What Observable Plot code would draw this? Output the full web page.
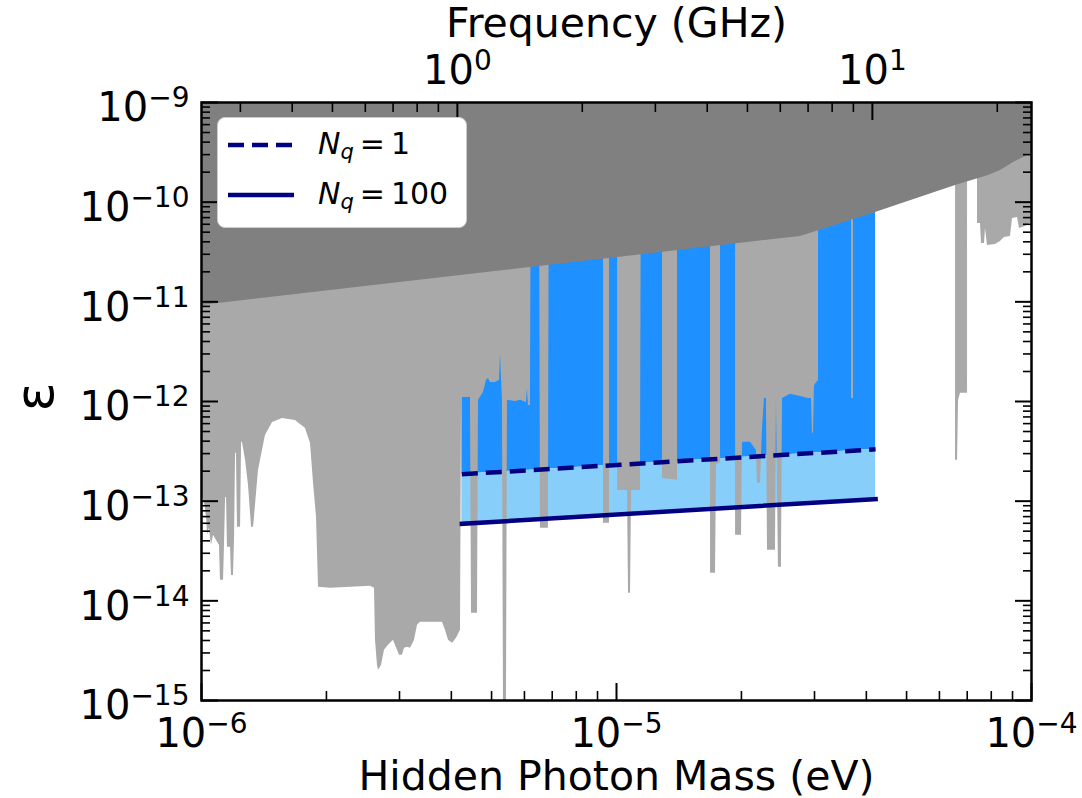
<!DOCTYPE html>
<html><head><meta charset="utf-8">
<script src="https://cdn.jsdelivr.net/npm/d3@7"></script>
<script src="https://cdn.jsdelivr.net/npm/@observablehq/plot@0.6"></script>
<style>
body{margin:0;background:#fff;}
#wrap{position:relative;width:1082px;height:798px;}
#legend{position:absolute;left:217px;top:117px;width:250px;height:111px;box-sizing:border-box;background:#fff;border:1.5px solid #cccccc;border-radius:8px;font-family:"DejaVu Sans";font-size:30px;color:#000;}
.row{position:absolute;left:0;height:40px;display:flex;align-items:center;}
.row svg{margin-left:10px;}
.row span{margin-left:24px;white-space:nowrap;}
.row sub{font-size:70%;vertical-align:-0.25em;font-style:italic;}
</style></head><body><div id="wrap"><div id="legend"></div></div>
<script>
// ---- constants / tick values ----
const GHZ_EV = 4.135667e-6;            // eV per GHz
const TOP = 1e-9;                      // top of the plotted range
const xMajor = [1e-6, 1e-5, 1e-4];
const xMinor = [2e-6,3e-6,4e-6,5e-6,6e-6,7e-6,8e-6,9e-6,2e-5,3e-5,4e-5,5e-5,6e-5,7e-5,8e-5,9e-5];
const yMajor = [1e-15,1e-14,1e-13,1e-12,1e-11,1e-10,1e-9];
const yMinor = [-15,-14,-13,-12,-11,-10].flatMap(e => [2,3,4,5,6,7,8,9].map(k => k * 10 ** e));
const fMajorGHz = [1, 10];
const fMinorGHz = [0.3,0.4,0.5,0.6,0.7,0.8,0.9,2,3,4,5,6,7,8,9,20];

// ---- projected sensitivity (N_q = 1 dashed, N_q = 100 solid) ----
const projMass = [4.24e-6, 4.21e-5];
const nq1Eps   = [1.86e-13, 3.31e-13];
const nq100Eps = [5.92e-14, 1.05e-13];

// ---- dark grey upper exclusion boundary ----
const darkMass = [1e-6, 2.776e-5, 4.208e-5, 6.561e-5, 7.88e-5, 8.418e-5, 9.05e-5, 1e-4];
const darkEps  = [9.20e-12, 4.53e-11, 7.88e-11, 1.47e-10, 1.85e-10, 2.08e-10, 2.50e-10, 3.08e-10];

// ---- light grey existing limits (lower boundary; TOP = no limit) ----
const greyMass = [
1.00e-6,1.02e-6,1.03e-6,1.034e-6,1.045e-6,1.057e-6,1.069e-6,1.087e-6,1.105e-6,1.111e-6,
1.130e-6,1.136e-6,1.143e-6,1.149e-6,1.155e-6,1.175e-6,1.181e-6,1.194e-6,1.201e-6,1.208e-6,
1.214e-6,1.221e-6,1.242e-6,1.249e-6,1.255e-6,1.277e-6,1.298e-6,1.320e-6,1.335e-6,1.372e-6,
1.426e-6,1.483e-6,1.567e-6,1.684e-6,1.781e-6,1.831e-6,1.862e-6,1.893e-6,1.914e-6,2.046e-6,
2.286e-6,2.554e-6,2.611e-6,2.626e-6,2.655e-6,2.670e-6,2.714e-6,2.760e-6,2.822e-6,2.901e-6,
2.966e-6,3.000e-6,3.050e-6,3.084e-6,3.136e-6,3.189e-6,3.260e-6,3.315e-6,3.370e-6,3.563e-6,
3.808e-6,3.872e-6,3.937e-6,4.026e-6,4.116e-6,4.208e-6,4.232e-6,4.255e-6,4.448e-6,4.473e-6,
4.624e-6,4.650e-6,4.780e-6,4.861e-6,4.915e-6,4.970e-6,5.109e-6,5.224e-6,5.253e-6,5.282e-6,
5.311e-6,5.341e-6,5.431e-6,5.461e-6,5.708e-6,5.868e-6,6.067e-6,6.101e-6,6.135e-6,6.203e-6,
6.238e-6,6.521e-6,6.557e-6,6.854e-6,6.892e-6,9.304e-6,9.304e-6,9.619e-6,9.619e-6,1.006e-5,
1.006e-5,1.063e-5,1.069e-5,1.081e-5,1.087e-5,1.142e-5,1.149e-5,1.291e-5,1.291e-5,1.403e-5,
1.403e-5,1.685e-5,1.685e-5,1.732e-5,1.742e-5,1.781e-5,1.781e-5,1.936e-5,1.936e-5,2.001e-5,
2.012e-5,2.103e-5,2.174e-5,2.186e-5,2.223e-5,2.247e-5,2.273e-5,2.298e-5,2.311e-5,2.416e-5,
2.429e-5,2.456e-5,2.497e-5,2.512e-5,2.626e-5,2.776e-5,2.901e-5,2.950e-5,2.966e-5,2.983e-5,
3.000e-5,3.067e-5,3.067e-5,3.684e-5,3.684e-5,3.725e-5,3.725e-5,6.561e-5,6.561e-5,6.634e-5,
6.671e-5,6.745e-5,7.012e-5,7.012e-5,7.411e-5,7.411e-5,7.535e-5,7.577e-5,7.704e-5,7.747e-5,
7.833e-5,8.188e-5,8.418e-5,8.607e-5,8.899e-5,8.999e-5,9.253e-5,9.356e-5,9.673e-5,1.0e-4];
const greyEps = [
1.20e-13,9.08e-14,6.42e-14,4.54e-14,5.34e-14,3.60e-14,4.54e-14,4.04e-14,3.60e-14,1.61e-14,
1.61e-14,3.60e-14,1.09e-13,1.09e-13,3.44e-14,3.44e-14,1.80e-14,1.80e-14,4.04e-14,3.02e-13,
3.02e-13,5.46e-14,5.46e-14,3.89e-13,3.89e-13,2.57e-13,1.44e-13,5.46e-14,5.46e-14,2.04e-13,
4.57e-13,6.17e-13,6.77e-13,6.46e-13,5.37e-13,3.80e-13,1.51e-13,6.88e-14,1.37e-14,1.34e-14,
1.37e-14,1.40e-14,1.34e-14,4.02e-15,2.25e-15,2.01e-15,2.25e-15,3.19e-15,3.58e-15,4.02e-15,
3.19e-15,2.84e-15,2.84e-15,3.34e-15,3.42e-15,3.34e-15,4.02e-15,5.68e-15,6.09e-15,6.09e-15,
6.09e-15,5.06e-15,4.02e-15,3.75e-15,4.21e-15,5.06e-15,1.03e-12,1.10e-12,1.10e-12,7.49e-15,
7.49e-15,1.03e-12,1.23e-12,1.63e-12,1.70e-12,1.55e-12,1.55e-12,1.63e-12,3.04e-12,1.70e-12,
1.07e-12,1e-15,1e-15,1.03e-12,1.00e-12,1.03e-12,9.79e-13,1.35e-12,9.14e-13,9.14e-13,
TOP,TOP,5.34e-14,5.34e-14,TOP,TOP,5.99e-14,5.99e-14,TOP,TOP,
1.28e-13,1.28e-13,1.19e-14,1.19e-14,1.28e-13,1.28e-13,TOP,TOP,1.69e-13,1.62e-13,
TOP,TOP,1.89e-14,1.89e-14,2.29e-13,2.45e-13,TOP,TOP,4.54e-14,4.54e-14,
3.89e-13,3.89e-13,3.23e-13,1.51e-13,1.51e-13,5.13e-13,1.07e-12,1.07e-12,3.21e-14,3.21e-14,
1.03e-12,2.17e-14,2.17e-14,1.07e-12,1.18e-12,1.12e-12,1.07e-12,1.07e-12,4.79e-13,4.79e-13,
1.45e-12,1.63e-12,TOP,TOP,1.07e-12,1.07e-12,TOP,TOP,2.57e-13,2.57e-13,
1.03e-12,1.21e-12,1.21e-12,TOP,TOP,6.11e-11,6.11e-11,3.85e-11,3.85e-11,5.45e-11,
3.68e-11,3.76e-11,4.03e-11,4.42e-11,4.53e-11,6.86e-11,7.02e-11,5.45e-11,5.71e-11,6.26e-11];

// ---- tables for the library ----
const proj = projMass.map((m, i) => ({m, lo: nq100Eps[i], hi: nq1Eps[i]}));
const dark = darkMass.map((m, i) => ({m, e: darkEps[i]}));
const grey = greyMass.map((m, i) => ({m, e: greyEps[i]}));

const pow10 = v => { const e = Math.round(Math.log10(v)); return "10^" + (e < 0 ? "\u2212" + (-e) : String(e)); };
const blank = () => "";
const FS = 40;

const chart = Plot.plot({
  width: 1082, height: 798,
  marginLeft: 201, marginRight: 51, marginTop: 102, marginBottom: 98,
  x: {type: "log", domain: [1e-6, 1e-4], label: null},
  y: {type: "log", domain: [1e-15, 1e-9], label: null},
  style: {fontFamily: "'DejaVu Sans', sans-serif", fontSize: FS + "px", color: "#000", background: "#fff"},
  marks: [
    Plot.areaY(proj, {x: "m", y1: "hi", y2: () => TOP, fill: "#1e90ff"}),
    Plot.areaY(proj, {x: "m", y1: "lo", y2: "hi", fill: "#87cefa"}),
    Plot.areaY(grey, {x: "m", y1: "e", y2: () => TOP, fill: "#a9a9a9"}),
    Plot.areaY(dark, {x: "m", y1: "e", y2: () => TOP, fill: "#808080"}),
    Plot.line(proj, {x: "m", y: "hi", stroke: "#000080", strokeWidth: 4.5, strokeDasharray: "16,8", strokeLinecap: "butt"}),
    Plot.line(proj, {x: "m", y: "lo", stroke: "#000080", strokeWidth: 4.5, strokeLinecap: "square"}),
    Plot.frame({stroke: "#000", strokeWidth: 2.5}),
    // inward ticks
    Plot.axisX(xMajor, {anchor: "bottom", tickSize: -17, strokeWidth: 2, tickFormat: blank, label: null}),
    Plot.axisX(xMinor, {anchor: "bottom", tickSize: -9, strokeWidth: 1.6, tickFormat: blank, label: null}),
    Plot.axisX(fMajorGHz.map(f => f * GHZ_EV), {anchor: "top", tickSize: -17, strokeWidth: 2, tickFormat: blank, label: null}),
    Plot.axisX(fMinorGHz.map(f => f * GHZ_EV), {anchor: "top", tickSize: -9, strokeWidth: 1.6, tickFormat: blank, label: null}),
    Plot.axisY(yMajor, {anchor: "left", tickSize: -17, strokeWidth: 2, tickFormat: blank, label: null}),
    Plot.axisY(yMinor, {anchor: "left", tickSize: -9, strokeWidth: 1.6, tickFormat: blank, label: null}),
    Plot.axisY(yMajor, {anchor: "right", tickSize: -17, strokeWidth: 2, tickFormat: blank, label: null}),
    Plot.axisY(yMinor, {anchor: "right", tickSize: -9, strokeWidth: 1.6, tickFormat: blank, label: null}),
    // tick labels
    Plot.axisX(xMajor, {anchor: "bottom", tickSize: 0, tickPadding: 18, tickFormat: pow10, fontSize: FS, label: null}),
    Plot.axisX(fMajorGHz.map(f => f * GHZ_EV), {anchor: "top", tickSize: 0, tickPadding: 19, tickFormat: v => pow10(v / GHZ_EV), fontSize: FS, label: null}),
    Plot.axisY(yMajor, {anchor: "left", tickSize: 0, tickPadding: 12, dy: 6, tickFormat: pow10, fontSize: FS, label: null}),
    // axis titles
    Plot.text(["Frequency (GHz)"], {frameAnchor: "top", dy: -95, fontSize: 41, text: d => d}),
    Plot.text(["Hidden Photon Mass (eV)"], {frameAnchor: "bottom", dy: 89, fontSize: 41, text: d => d}),
    Plot.text(["\u03b5"], {frameAnchor: "left", dx: -166, dy: 10, rotate: -90, fontSize: 54, text: d => d})
  ]
});

// render exponents as superscripts
const NS = "http://www.w3.org/2000/svg";
chart.querySelectorAll("text").forEach(t => {
  const m = /^10\^(.+)$/.exec(t.textContent);
  if (!m) return;
  t.textContent = "10";
  const sup = document.createElementNS(NS, "tspan");
  sup.setAttribute("dy", "-14");
  sup.setAttribute("font-size", "28");
  sup.textContent = m[1];
  t.appendChild(sup);
});
document.getElementById("wrap").prepend(chart);

// legend
const legend = document.getElementById("legend");
const entries = [
  {n: "1", dash: "16,8", top: 7},
  {n: "100", dash: null, top: 57}
];
entries.forEach(e => {
  const row = document.createElement("div");
  row.className = "row";
  row.style.top = e.top + "px";
  row.innerHTML = `<svg width="66" height="10"><line x1="0" x2="66" y1="5" y2="5" stroke="#000080" stroke-width="4.5" ${e.dash ? `stroke-dasharray="${e.dash}"` : ""}/></svg>` +
    `<span><i>N</i><sub>q</sub>&#8201;=&#8201;${e.n}</span>`;
  legend.appendChild(row);
});
</script>
</body></html>
